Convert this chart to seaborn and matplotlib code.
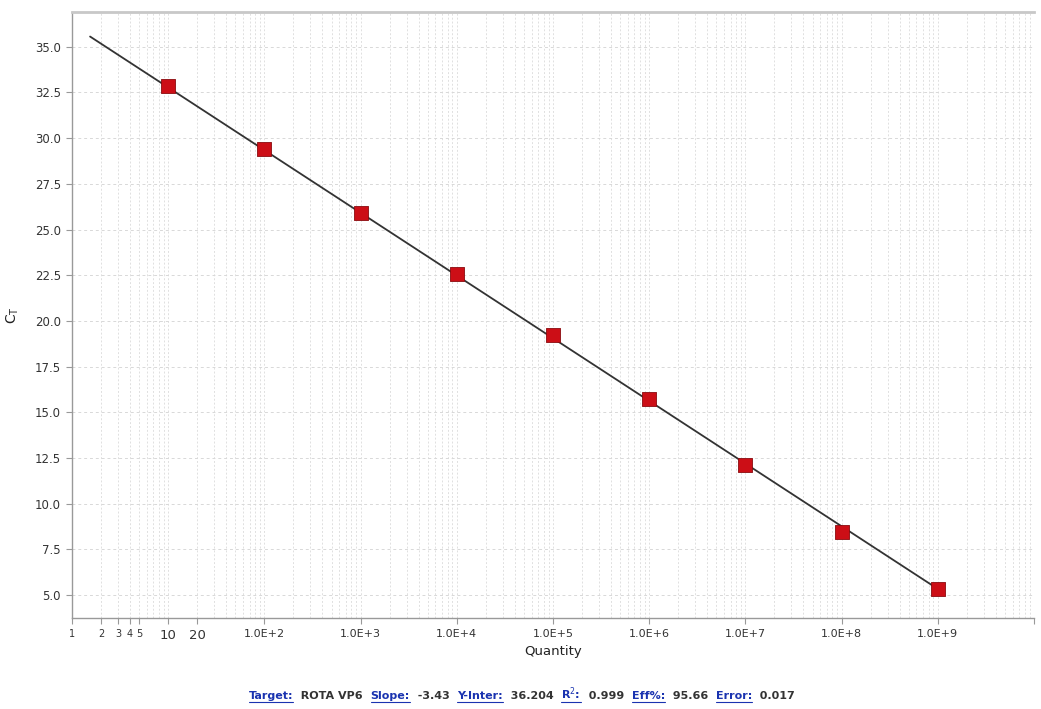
import matplotlib
matplotlib.use('Agg')
import numpy as np
import pandas as pd
import matplotlib.pyplot as plt
import seaborn as sns
from matplotlib.lines import Line2D

# 标准曲线数据
quantity = [1e1, 1e2, 1e3, 1e4, 1e5, 1e6, 1e7, 1e8, 1e9]
ct_values = [32.87, 29.38, 25.92, 22.55, 19.24, 15.73, 12.14, 8.46, 5.33]

# 拟合线端点
fit_x = [1.54, 1e9]
fit_y = [35.56, 5.33]

xtick_pos = [1, 2, 3, 4, 5, 10, 20, 1e2, 1e3, 1e4, 1e5, 1e6, 1e7, 1e8, 1e9, 1e10]
xtick_labels = ['1', '2', '3', '4', '5', '10', '20', '1.0E+2', '1.0E+3', '1.0E+4',
                '1.0E+5', '1.0E+6', '1.0E+7', '1.0E+8', '1.0E+9', '']
ytick_pos = [5.0, 7.5, 10.0, 12.5, 15.0, 17.5, 20.0, 22.5, 25.0, 27.5, 30.0, 32.5, 35.0]

summary = [('Target', 'ROTA VP6'), ('Slope', '-3.43'), ('Y-Inter', '36.204'),
           ('R$^2$', '0.999'), ('Eff%', '95.66'), ('Error', '0.017')]

sns.set_style('white')
plt.rcParams['font.family'] = ['DejaVu Sans']

fig = plt.figure(figsize=(10.41, 7.09), dpi=100)
ax = fig.add_axes([0.0692, 0.1283, 0.9241, 0.8547])

df = pd.DataFrame({'Quantity': quantity, 'Ct': ct_values})
line_df = pd.DataFrame({'x': fit_x, 'y': fit_y})

ax.set_xscale('log')
sns.lineplot(data=line_df, x='x', y='y', ax=ax, color='#333333', linewidth=1.3, zorder=3)
sns.scatterplot(data=df, x='Quantity', y='Ct', ax=ax, marker='s', s=100,
                color='#cc0e16', edgecolor='#8a0a0e', linewidth=0.6, zorder=4)

ax.set_xlim(1, 1e10)
ax.set_ylim(3.74, 36.9)

# 网格
minor_x = [m * 10 ** d for d in range(10) for m in range(1, 10)]
for xv in minor_x:
    ax.axvline(xv, color='#e0e0e0', linestyle=(0, (2, 2)), linewidth=0.7, zorder=0)
for yv in ytick_pos:
    ax.axhline(yv, color='#d8d8d8', linestyle=(0, (3, 3)), linewidth=0.7, zorder=0)

ax.xaxis.set_minor_locator(matplotlib.ticker.NullLocator())
ax.set_xticks(xtick_pos)
ax.set_xticklabels(xtick_labels)
for lbl, pos in zip(ax.get_xticklabels(), xtick_pos):
    if pos in (1, 2, 3, 4, 5):
        lbl.set_fontsize(7)
        lbl.set_color('#555555')
    elif pos in (10, 20):
        lbl.set_fontsize(9.5)
    else:
        lbl.set_fontsize(8)
ax.set_yticks(ytick_pos)
ax.set_yticklabels([f'{v:.1f}' for v in ytick_pos], fontsize=8.5)
ax.tick_params(axis='both', length=4, width=0.8, color='#999999', labelcolor='#333333', pad=4)
ax.tick_params(axis='x', direction='out', bottom=True)
ax.tick_params(axis='y', direction='out', left=True)

ax.set_xlabel('Quantity', fontsize=9.5, color='#222222', labelpad=2)
ax.set_ylabel('C$_\\mathregular{T}$', fontsize=10, color='#222222', labelpad=10)

for side in ['left', 'bottom']:
    ax.spines[side].set_color('#999999')
    ax.spines[side].set_linewidth(1.0)
ax.spines['top'].set_color('#c8c8c8')
ax.spines['top'].set_linewidth(2.0)
ax.spines['right'].set_visible(False)

# 底部统计信息
renderer = fig.canvas.get_renderer()
pieces = []
for key, val in summary:
    pieces.append((key + ':', '#1a33b0', True))
    pieces.append(('  ' + val + '  ', '#333333', False))

texts = []
x = 0.0
for s, c, underline in pieces:
    t = fig.text(x, 0.014, s, color=c, fontsize=8, fontweight='bold', va='baseline', ha='left')
    w = t.get_window_extent(renderer).width / fig.bbox.width
    texts.append((t, w, underline))
    x += w
total = x
start = 0.5 - total / 2 + 0.005
x = start
for t, w, underline in texts:
    t.set_x(x)
    if underline:
        fig.add_artist(Line2D([x, x + w], [0.0105, 0.0105], color='#1a33b0', linewidth=0.8,
                              transform=fig.transFigure))
    x += w

plt.savefig('out.png', dpi=100)
